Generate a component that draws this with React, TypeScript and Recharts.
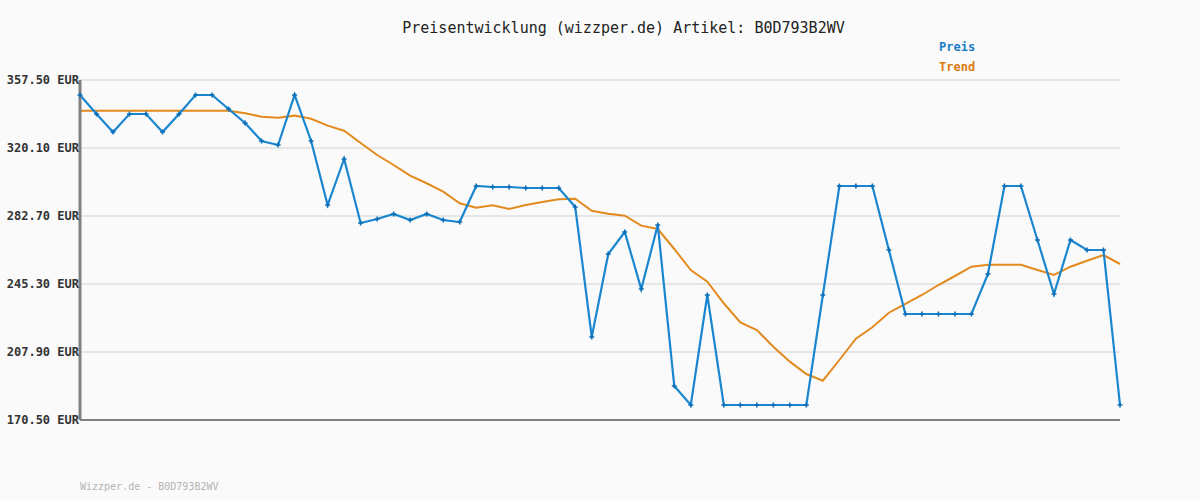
import React from "react";
import { LineChart, Line, XAxis, YAxis, CartesianGrid } from "recharts";

const titleText = "Preisentwicklung (wizzper.de) Artikel: B0D793B2WV";
const footerText = "Wizzper.de - B0D793B2WV";
const yTicks = [170.5, 207.9, 245.3, 282.7, 320.1, 357.5];

const preis = [
  349.25, 338.8, 328.9, 338.8, 338.8, 328.9, 338.8, 349.25, 349.25, 341.55,
  333.85, 323.95, 321.75, 349.25, 323.95, 288.75, 314.05, 278.85, 281.05, 283.8,
  280.5, 283.8, 280.5, 279.4, 299.2, 298.65, 298.65, 298.1, 298.1, 298.1,
  287.65, 216.15, 261.8, 273.9, 242.55, 277.75, 189.2, 178.75, 239.25, 178.75,
  178.75, 178.75, 178.75, 178.75, 178.75, 239.25, 299.2, 299.2, 299.2, 264.0,
  228.8, 228.8, 228.8, 228.8, 228.8, 250.8, 299.2, 299.2, 269.5, 239.8,
  269.5, 264.0, 264.0, 178.75,
];

const trend = [
  340.6, 340.6, 340.6, 340.6, 340.6, 340.6, 340.6, 340.6, 340.6, 340.6,
  339.2, 337.3, 336.8, 337.9, 336.2, 332.4, 329.6, 322.85, 316.25, 310.75,
  304.9, 300.7, 296.1, 289.7, 287.3, 288.6, 286.55, 288.75, 290.4, 291.9,
  292.2, 285.6, 284.0, 282.9, 277.4, 275.55, 264.55, 253.0, 246.6, 234.7,
  224.2, 220.0, 210.8, 202.6, 195.8, 192.1, 203.5, 215.2, 221.5, 229.5,
  234.4, 239.25, 244.75, 249.7, 254.8, 255.9, 255.9, 255.9, 253.0, 250.25,
  254.8, 258.1, 261.25, 256.3,
];

const data = preis.map((p, i) => ({ idx: i, preis: p, trend: trend[i] }));

const BLUE = "#1a86d0";
const ORANGE = "#e38a1f";
const MONO = "'DejaVu Sans Mono', 'Liberation Mono', monospace";

const PlusDot = (props: any) => {
  const { cx, cy } = props;
  if (cx == null || cy == null) return null;
  return (
    <path
      d={`M${cx - 2.5},${cy} L${cx + 2.5},${cy} M${cx},${cy - 2.5} L${cx},${cy + 2.5}`}
      stroke="#0b6fb8"
      strokeWidth={1.6}
      fill="none"
    />
  );
};

const fmt = (v: number) => `${v.toFixed(2)} EUR`;

const YTick = (props: any) => {
  const { x, y, payload } = props;
  return (
    <text
      x={x}
      y={y}
      dy={4}
      textAnchor="end"
      fontFamily={MONO}
      fontSize={12}
      fontWeight="bold"
      fill="#333"
    >
      {fmt(payload.value)}
    </text>
  );
};

export default function App() {
  return (
    <div
      style={{
        position: "absolute",
        left: 0,
        top: 0,
        width: 1200,
        height: 500,
        background: "#fafafa",
        fontFamily: MONO,
      }}
    >
      <div
        style={{
          position: "absolute",
          left: 0,
          width: 1247,
          top: 19,
          textAlign: "center",
          fontSize: 15,
          color: "#222",
          lineHeight: "18px",
          whiteSpace: "pre",
        }}
      >
        {titleText}
      </div>
      <div
        style={{
          position: "absolute",
          left: 939,
          top: 39,
          fontSize: 12,
          fontWeight: "bold",
          color: "#1a7cc4",
          lineHeight: "16px",
        }}
      >
        Preis
      </div>
      <div
        style={{
          position: "absolute",
          left: 939,
          top: 59,
          fontSize: 12,
          fontWeight: "bold",
          color: "#dd7a0c",
          lineHeight: "16px",
        }}
      >
        Trend
      </div>
      <div
        style={{
          position: "absolute",
          left: 80,
          top: 480,
          fontSize: 10,
          color: "#b4b4b4",
          lineHeight: "14px",
        }}
      >
        {footerText}
      </div>
      <LineChart
        width={1200}
        height={500}
        data={data}
        margin={{ top: 80, right: 80, bottom: 79, left: 10 }}
        style={{ position: "absolute", left: 0, top: 0 }}
      >
        <CartesianGrid
          horizontal={true}
          vertical={false}
          stroke="#e6e6e6"
          strokeWidth={2}
        />
        <XAxis
          dataKey="idx"
          type="category"
          tick={false}
          tickLine={false}
          axisLine={{ stroke: "#808080", strokeWidth: 2 }}
          height={1}
        />
        <YAxis
          type="number"
          domain={[170.5, 357.5]}
          ticks={yTicks}
          tickFormatter={fmt}
          width={70}
          tickLine={false}
          tickSize={0}
          tickMargin={1}
          axisLine={{ stroke: "#808080", strokeWidth: 3 }}
          tick={<YTick />}
          interval={0}
        />
        <Line
          type="linear"
          dataKey="trend"
          stroke={ORANGE}
          strokeWidth={2}
          dot={false}
          activeDot={false}
          isAnimationActive={false}
        />
        <Line
          type="linear"
          dataKey="preis"
          stroke={BLUE}
          strokeWidth={2.2}
          dot={<PlusDot />}
          activeDot={false}
          isAnimationActive={false}
        />
      </LineChart>
    </div>
  );
}
